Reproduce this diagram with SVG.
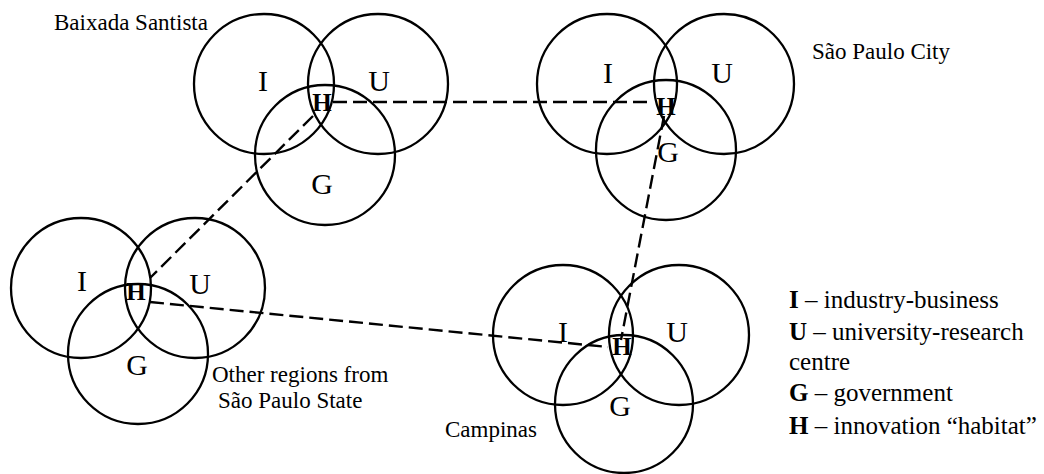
<svg xmlns="http://www.w3.org/2000/svg" width="1044" height="474" viewBox="0 0 1044 474">
<style>
  .c { fill: none; stroke: #000; stroke-width: 2.3; }
  .l { font-family: "Liberation Serif", "Times New Roman", serif; font-size: 30px; fill: #000; text-anchor: middle; }
  .h { font-family: "Liberation Serif", "Times New Roman", serif; font-size: 25px; font-weight: bold; fill: #000; text-anchor: middle; }
  .t { font-family: "Liberation Serif", "Times New Roman", serif; font-size: 23px; fill: #000; }
  .lg { font-family: "Liberation Serif", "Times New Roman", serif; font-size: 25px; fill: #000; }
  .lg tspan.b { font-weight: bold; }
  .d { fill: none; stroke: #000; stroke-width: 2.4; stroke-dasharray: 14 6; }
</style>
<rect width="1044" height="474" fill="#fff"/>

<g id="baixada-santista">
  <circle class="c" cx="264" cy="84" r="70"/>
  <circle class="c" cx="378" cy="84" r="70"/>
  <circle class="c" cx="325" cy="155" r="70"/>
  <text class="l" x="263" y="91">I</text>
  <text class="l" x="379" y="91">U</text>
  <text class="l" x="322" y="194">G</text>
  <text class="t" x="54" y="30">Baixada Santista</text>
</g>

<g id="sao-paulo-city">
  <circle class="c" cx="607" cy="84" r="70"/>
  <circle class="c" cx="724" cy="84" r="70"/>
  <circle class="c" cx="666" cy="150" r="70"/>
  <text class="l" x="608" y="83">I</text>
  <text class="l" x="722" y="83">U</text>
  <text class="l" x="668" y="162">G</text>
  <text class="t" x="812" y="59">São Paulo City</text>
</g>

<g id="other-regions">
  <circle class="c" cx="81" cy="288" r="70"/>
  <circle class="c" cx="195" cy="288" r="70"/>
  <circle class="c" cx="138" cy="354" r="70"/>
  <text class="l" x="82" y="291">I</text>
  <text class="l" x="200" y="294">U</text>
  <text class="l" x="137" y="375">G</text>
  <text class="t" x="212" y="382">Other regions from</text>
  <text class="t" x="218" y="408">São Paulo State</text>
</g>

<g id="campinas">
  <circle class="c" cx="563" cy="335" r="70"/>
  <circle class="c" cx="679" cy="335" r="70"/>
  <circle class="c" cx="624" cy="404" r="69"/>
  <text class="l" x="563" y="342">I</text>
  <text class="l" x="677" y="342">U</text>
  <text class="l" x="620" y="416">G</text>
  <text class="t" x="445" y="437">Campinas</text>
</g>

<g id="connectors">
  <line class="d" x1="333" y1="102" x2="652" y2="102"/>
  <line class="d" x1="313" y1="116" x2="150" y2="278"/>
  <line class="d" x1="150" y1="302" x2="608" y2="347"/>
  <line class="d" x1="664" y1="116" x2="621" y2="340"/>
</g>

<g id="habitats">
  <text class="h" x="322" y="111">H</text>
  <text class="h" x="666" y="115">H</text>
  <text class="h" x="136" y="300">H</text>
  <text class="h" x="622" y="355">H</text>
</g>

<g id="legend">
  <text class="lg" x="789" y="308"><tspan class="b">I</tspan> – industry-business</text>
  <text class="lg" x="789" y="340"><tspan class="b">U</tspan> – university-research</text>
  <text class="lg" x="789" y="370">centre</text>
  <text class="lg" x="789" y="401"><tspan class="b">G</tspan> – government</text>
  <text class="lg" x="789" y="434"><tspan class="b">H</tspan> – innovation “habitat”</text>
</g>
</svg>
